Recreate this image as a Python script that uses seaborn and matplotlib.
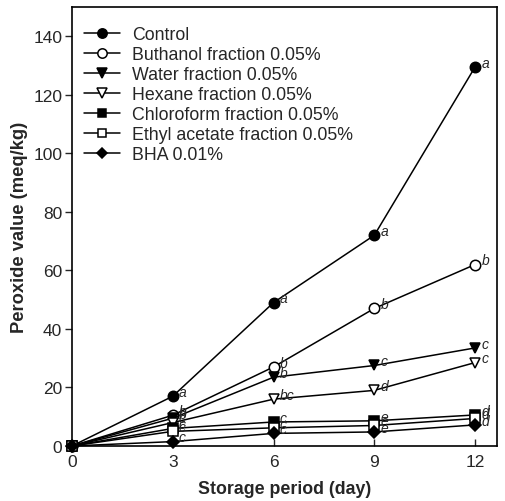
import matplotlib
matplotlib.use("Agg")
import matplotlib.pyplot as plt
import seaborn as sns
import pandas as pd

days = [0, 3, 6, 9, 12]
series_names = ["Control", "Buthanol fraction 0.05%", "Water fraction 0.05%",
                "Hexane fraction 0.05%", "Chloroform fraction 0.05%",
                "Ethyl acetate fraction 0.05%", "BHA 0.01%"]
control = [0, 17, 49, 72, 129.5]
buthanol = [0, 10.5, 27, 47, 62]
water = [0, 9.5, 23.5, 27.5, 33.5]
hexane = [0, 8, 16, 19, 28.5]
chloroform = [0, 6, 8.2, 8.6, 10.6]
ethyl = [0, 5, 6.2, 7, 9.4]
bha = [0, 1.5, 4.3, 4.8, 7.2]
letters_control = ["", "a", "a", "a", "a"]
letters_buthanol = ["", "b", "b", "b", "b"]
letters_water = ["", "b", "b", "c", "c"]
letters_hexane = ["", "c", "bc", "d", "c"]
letters_chloroform = ["", "c", "c", "e", "d"]
letters_ethyl = ["", "c", "c", "e", "d"]
letters_bha = ["", "c", "c", "e", "d"]
x_ticks = [0, 3, 6, 9, 12]
y_ticks = [0, 20, 40, 60, 80, 100, 120, 140]

values = [control, buthanol, water, hexane, chloroform, ethyl, bha]
letters = [letters_control, letters_buthanol, letters_water, letters_hexane,
           letters_chloroform, letters_ethyl, letters_bha]
markers = ["o", "o", "v", "v", "s", "s", "D"]
faces = ["black", "white", "black", "white", "black", "white", "black"]
msizes = [7.5, 7.5, 7.5, 7.5, 6.8, 6.8, 6.2]

sns.set_style("ticks")
plt.rcParams['font.family'] = ['Liberation Sans', 'DejaVu Sans']

fig = plt.figure(figsize=(5.05, 5.02), dpi=100)
ax = fig.add_axes([0.1426, 0.1096, 0.8414, 0.8745])

for name, vals, lets, m, fc, ms in zip(series_names, values, letters, markers, faces, msizes):
    df = pd.DataFrame({"day": days, "pv": vals})
    sns.lineplot(data=df, x="day", y="pv", ax=ax, color="black", linewidth=1.1,
                 marker=m, markerfacecolor=fc, markeredgecolor="black",
                 markeredgewidth=1.1, markersize=ms, label=name, clip_on=False)
    for d, v, t in zip(days, vals, lets):
        if t:
            ax.annotate(t, (d, v), xytext=(4.5, 3), textcoords="offset points",
                        fontsize=10, style="italic", ha="left", va="center")

ax.set_xlim(0, 12.65)
ax.set_ylim(0, 150)
ax.set_xticks(x_ticks)
ax.set_yticks(y_ticks)
ax.tick_params(axis="x", direction="in", length=5, width=1, labelsize=12.5, pad=6)
ax.tick_params(axis="y", direction="out", length=5, width=1, labelsize=12.5, pad=2)
for s in ax.spines.values():
    s.set_linewidth(1.2)
    s.set_color("black")
ax.set_xlabel("Storage period (day)", fontsize=12.8, fontweight="bold", labelpad=8)
ax.set_ylabel("Peroxide value (meq/kg)", fontsize=13.2, fontweight="bold", labelpad=4)

leg = ax.legend(loc="upper left", bbox_to_anchor=(84 / 505, 1 - 27 / 502),
                bbox_transform=fig.transFigure, frameon=False,
                fontsize=12.8, handlelength=2.0, handletextpad=0.7,
                labelspacing=0.17, borderaxespad=0, borderpad=0, markerscale=0.9)

fig.savefig("out.png", dpi=100)
